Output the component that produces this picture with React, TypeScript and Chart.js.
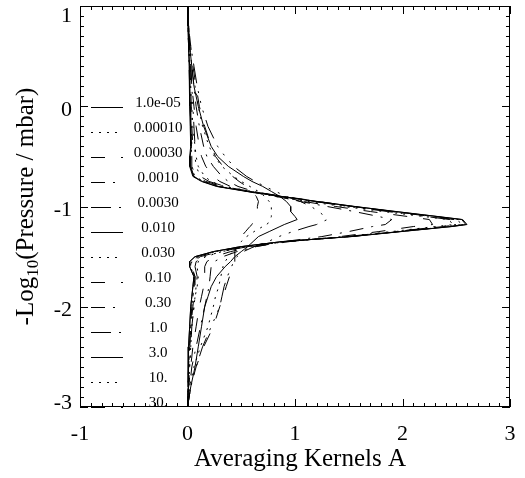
import React, { useEffect, useRef } from "react";
import { Chart, registerables } from "chart.js";

Chart.register(...registerables);

// -log10(pressure / mbar) levels shared by every kernel
const Y_LEVELS = [
  1.0, 0.8, 0.6, 0.4, 0.2, 0.0, -0.2, -0.4, -0.5, -0.6, -0.7,
  -0.75, -0.8, -0.85, -0.9, -0.95, -1.0, -1.05, -1.1, -1.13, -1.18,
  -1.2, -1.25, -1.3, -1.35, -1.4, -1.45, -1.5, -1.55, -1.6, -1.7,
  -1.8, -1.9, -2.0, -2.2, -2.4, -2.6, -2.8, -3.0,
];

const SERIES_LABELS = [
  "1.0e-05", "0.00010", "0.00030", "0.0010", "0.0030", "0.010", "0.030",
  "0.10", "0.30", "1.0", "3.0", "10.", "30.",
];

const K_1E05 = [0, 0.005, 0.01, 0.015, 0.02, 0.02, 0.025, 0.03, 0.02, 0.02, 0.05, 0.13, 0.27, 0.55, 0.87, 1.2, 1.55, 1.93, 2.32, 2.55, 2.59, 2.45, 1.98, 1.52, 0.88, 0.5, 0.24, 0.07, 0.02, 0.02, 0.06, 0.05, 0.04, 0.03, 0.02, 0.01, 0.01, 0.005, 0];
const K_00010 = [0, 0.005, 0.01, 0.02, 0.025, 0.03, 0.035, 0.04, 0.03, 0.03, 0.07, 0.15, 0.3, 0.58, 0.88, 1.2, 1.53, 1.9, 2.28, 2.5, 2.56, 2.42, 1.96, 1.5, 0.9, 0.52, 0.27, 0.1, 0.04, 0.03, 0.06, 0.06, 0.05, 0.04, 0.03, 0.02, 0.01, 0.005, 0];
const K_00030 = [0, 0.01, 0.015, 0.02, 0.03, 0.035, 0.04, 0.05, 0.04, 0.04, 0.08, 0.17, 0.32, 0.6, 0.9, 1.22, 1.54, 1.9, 2.27, 2.48, 2.52, 2.38, 1.95, 1.5, 0.92, 0.55, 0.3, 0.12, 0.05, 0.04, 0.07, 0.07, 0.06, 0.05, 0.03, 0.02, 0.01, 0.005, 0];
const K_0010 = [0, 0.005, 0.01, 0.015, 0.02, 0.025, 0.03, 0.035, 0.03, 0.03, 0.06, 0.14, 0.29, 0.56, 0.87, 1.19, 1.53, 1.91, 2.3, 2.52, 2.57, 2.43, 1.97, 1.52, 0.89, 0.51, 0.26, 0.09, 0.03, 0.03, 0.07, 0.06, 0.05, 0.04, 0.03, 0.02, 0.01, 0.005, 0];
const K_0030 = [0, 0.01, 0.02, 0.03, 0.04, 0.05, 0.06, 0.07, 0.07, 0.08, 0.12, 0.2, 0.35, 0.6, 0.88, 1.18, 1.5, 1.86, 2.22, 2.44, 2.5, 2.36, 1.93, 1.48, 0.92, 0.56, 0.32, 0.15, 0.08, 0.07, 0.09, 0.08, 0.07, 0.06, 0.04, 0.03, 0.02, 0.01, 0];
const K_010 = [0, 0.005, 0.01, 0.02, 0.02, 0.025, 0.03, 0.035, 0.025, 0.025, 0.055, 0.14, 0.28, 0.56, 0.88, 1.21, 1.56, 1.94, 2.33, 2.56, 2.6, 2.46, 1.99, 1.53, 0.88, 0.5, 0.24, 0.07, 0.02, 0.02, 0.06, 0.05, 0.04, 0.03, 0.02, 0.01, 0.01, 0.005, 0];
const K_030 = [0, 0.005, 0.015, 0.02, 0.03, 0.04, 0.05, 0.07, 0.08, 0.1, 0.16, 0.22, 0.34, 0.55, 0.82, 1.12, 1.45, 1.82, 2.2, 2.42, 2.48, 2.3, 1.9, 1.47, 0.92, 0.56, 0.32, 0.17, 0.1, 0.09, 0.1, 0.09, 0.07, 0.06, 0.04, 0.03, 0.02, 0.01, 0];
const K_10 = [0, 0.01, 0.02, 0.03, 0.04, 0.06, 0.08, 0.11, 0.13, 0.17, 0.24, 0.3, 0.4, 0.58, 0.82, 1.08, 1.38, 1.7, 2.05, 2.25, 2.28, 2.1, 1.78, 1.42, 0.95, 0.62, 0.4, 0.25, 0.18, 0.16, 0.16, 0.15, 0.13, 0.11, 0.08, 0.05, 0.03, 0.01, 0];
const K_30 = [0, 0.01, 0.02, 0.04, 0.06, 0.08, 0.11, 0.15, 0.18, 0.24, 0.32, 0.38, 0.47, 0.62, 0.84, 1.05, 1.3, 1.55, 1.78, 1.9, 1.84, 1.72, 1.5, 1.25, 0.9, 0.64, 0.46, 0.33, 0.25, 0.22, 0.21, 0.2, 0.18, 0.16, 0.12, 0.08, 0.04, 0.02, 0];
const K_1_0 = [0, 0.0, 0.03, 0.06, 0.09, 0.13, 0.19, 0.28, 0.35, 0.43, 0.55, 0.63, 0.72, 0.82, 0.92, 1.05, 1.15, 1.22, 1.28, 1.3, 1.2, 1.13, 0.98, 0.85, 0.75, 0.62, 0.52, 0.46, 0.43, 0.41, 0.37, 0.34, 0.32, 0.3, 0.22, 0.14, 0.08, 0.03, 0];
const K_3_0 = [0, 0.01, 0.02, 0.04, 0.06, 0.1, 0.15, 0.22, 0.28, 0.38, 0.52, 0.6, 0.7, 0.78, 0.86, 0.92, 0.96, 0.96, 1.0, 1.02, 0.9, 0.86, 0.76, 0.66, 0.61, 0.56, 0.5, 0.44, 0.4, 0.35, 0.27, 0.22, 0.19, 0.16, 0.13, 0.1, 0.07, 0.03, 0];
const K_10_ = [0, 0.01, 0.02, 0.04, 0.07, 0.1, 0.14, 0.2, 0.25, 0.32, 0.43, 0.5, 0.58, 0.66, 0.72, 0.76, 0.78, 0.78, 0.78, 0.77, 0.74, 0.7, 0.62, 0.55, 0.5, 0.46, 0.42, 0.38, 0.35, 0.33, 0.31, 0.29, 0.26, 0.24, 0.19, 0.12, 0.06, 0.02, 0];
const K_30_ = [0, 0.01, 0.03, 0.05, 0.08, 0.11, 0.16, 0.22, 0.26, 0.33, 0.42, 0.48, 0.55, 0.6, 0.64, 0.66, 0.65, 0.65, 0.64, 0.62, 0.6, 0.58, 0.54, 0.5, 0.47, 0.45, 0.44, 0.44, 0.44, 0.42, 0.39, 0.36, 0.33, 0.3, 0.24, 0.15, 0.08, 0.03, 0];

const KERNELS = [K_1E05, K_00010, K_00030, K_0010, K_0030, K_010, K_030, K_10, K_30, K_1_0, K_3_0, K_10_, K_30_];

const X_TICKS = [-1, 0, 1, 2, 3];
const Y_TICKS = [1, 0, -1, -2, -3];

// IDL-like linestyles: solid, dotted, dashed, dash-dot, dash-dot-dot-dot
const DASHES: number[][] = [[], [2, 6], [14, 16], [14, 8, 2, 8], [20, 8, 2, 8, 2, 8, 2, 8]];

const SERIF = '"Liberation Serif", "Times New Roman", serif';

const idlFrame = {
  id: "idlFrame",
  afterDraw(chart: any) {
    const { ctx, chartArea } = chart;
    const { left, right, top, bottom } = chartArea;
    const xs = chart.scales.x;
    const ys = chart.scales.y;
    ctx.save();
    ctx.strokeStyle = "#000";
    ctx.fillStyle = "#000";
    ctx.lineWidth = 1;
    ctx.setLineDash([]);
    ctx.strokeRect(left + 0.5, top + 0.5, right - left - 1, bottom - top - 1);

    // ticks
    ctx.beginPath();
    for (let i = Math.ceil(xs.min * 10); i <= Math.floor(xs.max * 10); i++) {
      const px = Math.round(xs.getPixelForValue(i / 10)) + 0.5;
      const len = i % 10 === 0 ? 8 : 4;
      ctx.moveTo(px, bottom);
      ctx.lineTo(px, bottom - len);
      ctx.moveTo(px, top);
      ctx.lineTo(px, top + len);
    }
    for (let i = Math.ceil(ys.min * 10); i <= Math.floor(ys.max * 10); i++) {
      const py = Math.round(ys.getPixelForValue(i / 10)) + 0.5;
      const len = i % 10 === 0 ? 8 : 4;
      ctx.moveTo(left, py);
      ctx.lineTo(left + len, py);
      ctx.moveTo(right, py);
      ctx.lineTo(right - len, py);
    }
    ctx.stroke();

    // tick labels
    ctx.font = `22px ${SERIF}`;
    ctx.textBaseline = "alphabetic";
    ctx.textAlign = "center";
    X_TICKS.forEach((v) => {
      ctx.fillText(String(v), xs.getPixelForValue(v), bottom + 33);
    });
    ctx.textAlign = "right";
    Y_TICKS.forEach((v) => {
      let c = ys.getPixelForValue(v) + 2;
      c = Math.max(top + 8, Math.min(bottom - 6, c));
      ctx.fillText(String(v), left - 8, c + 7.5);
    });

    // x title
    ctx.font = `25px ${SERIF}`;
    ctx.textAlign = "center";
    ctx.fillText("Averaging Kernels A", (left + right) / 2 + 5, bottom + 59);

    // y title with subscript
    ctx.save();
    ctx.translate(33, (top + bottom) / 2);
    ctx.rotate(-Math.PI / 2);
    ctx.textAlign = "left";
    const p1 = "-Log";
    const p2 = "10";
    const p3 = "(Pressure / mbar)";
    ctx.font = `25px ${SERIF}`;
    const w1 = ctx.measureText(p1).width;
    const w3 = ctx.measureText(p3).width;
    ctx.font = `17px ${SERIF}`;
    const w2 = ctx.measureText(p2).width;
    const start = -(w1 + w2 + w3) / 2;
    ctx.font = `25px ${SERIF}`;
    ctx.fillText(p1, start, 0);
    ctx.font = `17px ${SERIF}`;
    ctx.fillText(p2, start + w1, 5);
    ctx.font = `25px ${SERIF}`;
    ctx.fillText(p3, start + w1 + w2, 0);
    ctx.restore();

    // legend
    ctx.font = `15px ${SERIF}`;
    ctx.textAlign = "center";
    SERIES_LABELS.forEach((lab, i) => {
      const ly = Math.round(top + 101 + 25 * i) + 0.5;
      ctx.setLineDash(DASHES[i % 5]);
      ctx.beginPath();
      ctx.moveTo(left + 11, ly);
      ctx.lineTo(left + 43, ly);
      ctx.stroke();
      ctx.setLineDash([]);
      ctx.fillText(lab, left + 78, ly - 1);
    });
    ctx.restore();
  },
};

export default function App() {
  const ref = useRef<HTMLCanvasElement | null>(null);
  useEffect(() => {
    if (!ref.current) return;
    const datasets = KERNELS.map((k, i) => ({
      label: SERIES_LABELS[i],
      data: Y_LEVELS.map((y, j) => ({ x: k[j], y })),
      showLine: true,
      borderColor: "#000",
      backgroundColor: "#000",
      borderWidth: 1,
      borderDash: DASHES[i % 5],
      pointRadius: 0,
      tension: 0,
      fill: false,
    }));
    const chart = new Chart(ref.current, {
      type: "scatter",
      data: { datasets },
      options: {
        responsive: false,
        animation: false,
        layout: { padding: { left: 80, right: 15, top: 6, bottom: 71 } },
        plugins: { legend: { display: false }, tooltip: { enabled: false } },
        scales: {
          x: { type: "linear", min: -1, max: 3, display: false },
          y: { type: "linear", min: -3, max: 1, display: false },
        },
      },
      plugins: [idlFrame],
    });
    return () => chart.destroy();
  }, []);
  return (
    <div style={{ position: "fixed", left: 0, top: 0, width: 525, height: 478, background: "#fff" }}>
      <canvas ref={ref} width={525} height={478} style={{ display: "block" }} />
    </div>
  );
}
